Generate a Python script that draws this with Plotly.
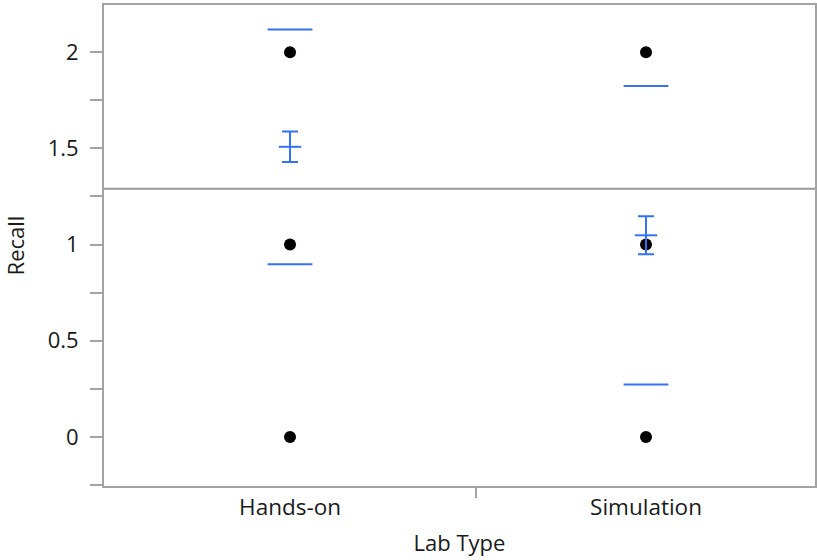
import plotly.graph_objects as go

# Oneway: Recall by Lab Type
lab_types = ["Hands-on", "Simulation"]
recall_values = [0, 1, 2]          # observed recall levels (both groups)
group_means = [1.508, 1.048]
group_se = [0.079, 0.099]          # mean error bars
group_sd = [0.610, 0.776]          # std dev lines
grand_mean = 1.29
group_boundary = 0.5225            # proportional x-axis split between groups

BLUE = "#3471F5"
GRAY = "#A3A3A3"
FONT = "Open Sans, Noto Sans, sans-serif"

x_pos = list(range(len(lab_types)))

fig = go.Figure()

# Raw points
for i, lab in enumerate(lab_types):
    fig.add_trace(go.Scatter(
        x=[x_pos[i]] * len(recall_values),
        y=recall_values,
        mode="markers",
        marker=dict(color="black", size=12),
        name=lab,
        showlegend=False,
        hoverinfo="x+y"
    ))

# Std dev lines (mean +/- sd)
upper = [m + s for m, s in zip(group_means, group_sd)]
lower = [m - s for m, s in zip(group_means, group_sd)]
fig.add_trace(go.Scatter(
    x=x_pos + x_pos,
    y=upper + lower,
    mode="markers",
    marker=dict(symbol="line-ew", size=32, line=dict(color=BLUE, width=2)),
    showlegend=False
))

# Mean with error bars
fig.add_trace(go.Scatter(
    x=x_pos,
    y=group_means,
    mode="markers",
    marker=dict(symbol="line-ew", size=16, line=dict(color=BLUE, width=2)),
    error_y=dict(type="data", array=group_se, color=BLUE, thickness=2, width=8),
    showlegend=False
))

fig.update_layout(
    width=817,
    height=560,
    margin=dict(l=104, r=2, t=5, b=74),
    plot_bgcolor="white",
    paper_bgcolor="white",
    font=dict(family=FONT, size=22, color="#1a1a1a"),
    xaxis=dict(
        range=[-group_boundary, 1.4747],
        tickvals=x_pos,
        ticktext=lab_types,
        ticks="",
        tickfont=dict(size=22.5),
        showline=True, linecolor=GRAY, linewidth=2, mirror=True,
        showgrid=False, zeroline=False,
        minor=dict(tickvals=[group_boundary], ticks="outside", ticklen=10,
                   tickwidth=2, tickcolor=GRAY, showgrid=False),
        automargin=False,
        title=dict(text="Lab Type", standoff=15, font=dict(size=22)),
    ),
    yaxis=dict(
        range=[-0.255, 2.245],
        tickvals=[0, 0.5, 1, 1.5, 2],
        ticktext=["0", "0.5", "1", "1.5", "2"],
        ticks="outside", ticklen=12, tickwidth=2, tickcolor=GRAY,
        tickfont=dict(size=22),
        ticklabelstandoff=7,
        minor=dict(dtick=0.25, tick0=0, ticks="outside", ticklen=12,
                   tickwidth=2, tickcolor=GRAY, showgrid=False),
        showline=True, linecolor=GRAY, linewidth=2, mirror=True,
        showgrid=False, zeroline=False,
        automargin=False,
        title=dict(text="Recall", standoff=18, font=dict(size=22)),
    ),
    shapes=[dict(
        type="line", xref="paper", yref="y",
        x0=0, x1=1, y0=grand_mean, y1=grand_mean,
        line=dict(color="#999999", width=2)
    )],
)

# drop the browser's default page margin so the figure sits at the window origin
fig.write_html(
    "out.html",
    config={"displayModeBar": False},
    post_script="document.body.style.margin='0';"
                "var gd=document.getElementById('{plot_id}');"
                "Plotly.relayout(gd,{width:817,height:560});"
)
